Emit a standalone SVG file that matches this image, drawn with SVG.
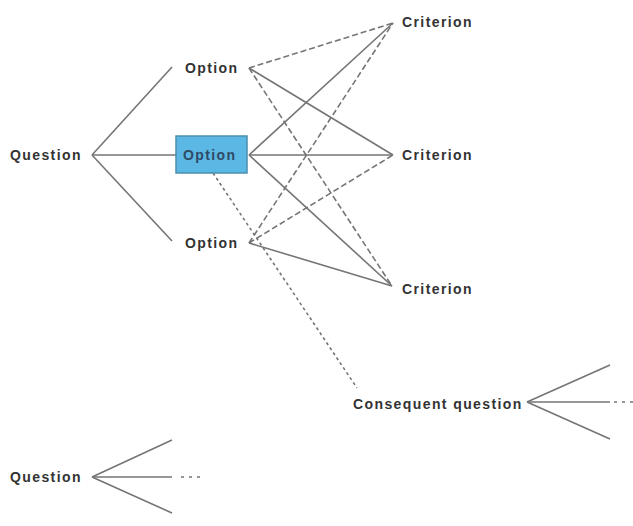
<svg xmlns="http://www.w3.org/2000/svg" width="633" height="526" viewBox="0 0 633 526">
<style>
.t{font-family:"Liberation Sans",Arial,sans-serif;font-weight:bold;font-size:14px;letter-spacing:1.4px;fill:#333333;dominant-baseline:central}
.s{stroke:#757575;stroke-width:1.6;fill:none}
.d{stroke:#757575;stroke-width:1.6;fill:none;stroke-dasharray:6 3}
.o{stroke:#757575;stroke-width:1.6;fill:none;stroke-dasharray:3 3}
.e{stroke:#757575;stroke-width:1.6;fill:none;stroke-dasharray:3 5}
</style>
<rect width="633" height="526" fill="#ffffff"/>
<g id="connectors">
<line class="s" x1="92" y1="155" x2="172" y2="67"/>
<line class="s" x1="92" y1="155" x2="176" y2="155"/>
<line class="s" x1="92" y1="155" x2="172" y2="241"/>
<line class="d" x1="249" y1="68" x2="393" y2="23"/>
<line class="s" x1="249" y1="68" x2="393" y2="155"/>
<line class="d" x1="249" y1="68" x2="392" y2="286"/>
<line class="s" x1="249" y1="155" x2="393" y2="23"/>
<line class="s" x1="249" y1="155" x2="393" y2="155"/>
<line class="s" x1="249" y1="155" x2="392" y2="286"/>
<line class="d" x1="249" y1="243" x2="393" y2="23"/>
<line class="d" x1="249" y1="243" x2="393" y2="155"/>
<line class="s" x1="249" y1="243" x2="392" y2="286"/>
<line class="o" x1="213" y1="173" x2="357" y2="388"/>
<line class="s" x1="527" y1="402" x2="610" y2="365"/>
<line class="s" x1="527" y1="402" x2="610" y2="402"/>
<line class="e" x1="614" y1="402" x2="633" y2="402"/>
<line class="s" x1="527" y1="402" x2="610" y2="439"/>
<line class="s" x1="92" y1="477" x2="172" y2="440"/>
<line class="s" x1="92" y1="477" x2="172" y2="477"/>
<line class="e" x1="181" y1="477" x2="202" y2="477"/>
<line class="s" x1="92" y1="477" x2="172" y2="513"/>
</g>
<g id="question"><text class="t" x="10" y="155">Question</text></g>
<g id="option1"><text class="t" x="185" y="68">Option</text></g>
<g id="option2"><rect x="176" y="136" width="71" height="37" fill="#5bb8e4" stroke="#4b8fae" stroke-width="1.5"/><text class="t" x="183" y="155" style="fill:#2e4a66">Option</text></g>
<g id="option3"><text class="t" x="185" y="243">Option</text></g>
<g id="criterion1"><text class="t" x="402" y="22">Criterion</text></g>
<g id="criterion2"><text class="t" x="402" y="155">Criterion</text></g>
<g id="criterion3"><text class="t" x="402" y="289">Criterion</text></g>
<g id="consequent"><text class="t" x="353" y="404">Consequent question</text></g>
<g id="question2"><text class="t" x="10" y="477">Question</text></g>
</svg>
